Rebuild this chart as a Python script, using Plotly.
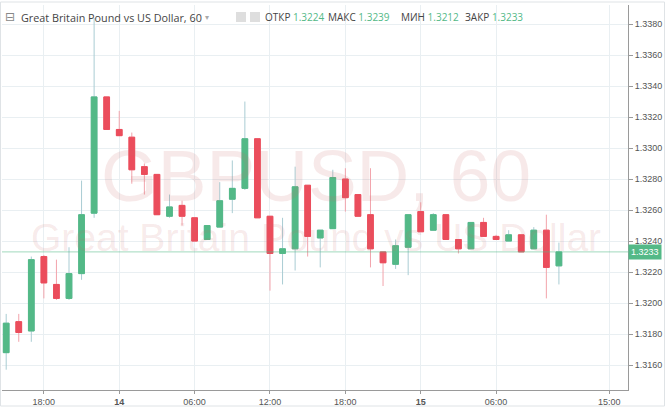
import plotly.graph_objects as go
import pandas as pd

# hourly GBPUSD candles, 13th 15:00 -> 15th 11:00
times = pd.date_range("2017-09-13 15:00", periods=45, freq="h")
opens = [1.3168, 1.3188, 1.3182, 1.3230, 1.3212, 1.3203, 1.3219, 1.3258, 1.3333,
         1.3312, 1.3307, 1.3288, 1.3283, 1.3256, 1.3263, 1.3255, 1.3241, 1.3249,
         1.3267, 1.3274, 1.3306, 1.3256, 1.3232, 1.3235, 1.3276, 1.3242, 1.3248,
         1.3280, 1.3270, 1.3257, 1.3233, 1.3225, 1.3236, 1.3259, 1.3247, 1.3257,
         1.3241, 1.3235, 1.3252, 1.3243, 1.3240, 1.3244, 1.3235, 1.3247, 1.3224]
highs = [1.3193, 1.3193, 1.3230, 1.3231, 1.3228, 1.3236, 1.3279, 1.3384, 1.3333,
         1.3324, 1.3310, 1.3290, 1.3283, 1.3270, 1.3266, 1.3255, 1.3250, 1.3278,
         1.3292, 1.3330, 1.3306, 1.3256, 1.3255, 1.3288, 1.3276, 1.3247, 1.3286,
         1.3287, 1.3270, 1.3287, 1.3233, 1.3241, 1.3257, 1.3265, 1.3258, 1.3257,
         1.3241, 1.3252, 1.3255, 1.3244, 1.3247, 1.3244, 1.3249, 1.3257, 1.3239]
lows = [1.3157, 1.3175, 1.3175, 1.3203, 1.3202, 1.3202, 1.3215, 1.3255, 1.3312,
        1.3308, 1.3277, 1.3270, 1.3257, 1.3255, 1.3250, 1.3240, 1.3241, 1.3249,
        1.3258, 1.3273, 1.3255, 1.3208, 1.3212, 1.3221, 1.3230, 1.3223, 1.3248,
        1.3259, 1.3256, 1.3223, 1.3211, 1.3222, 1.3218, 1.3246, 1.3247, 1.3241,
        1.3232, 1.3235, 1.3243, 1.3241, 1.3240, 1.3233, 1.3235, 1.3203, 1.3212]
closes = [1.3187, 1.3181, 1.3228, 1.3213, 1.3203, 1.3219, 1.3257, 1.3333, 1.3312,
          1.3308, 1.3286, 1.3283, 1.3257, 1.3262, 1.3256, 1.3240, 1.3250, 1.3266,
          1.3274, 1.3306, 1.3255, 1.3232, 1.3235, 1.3275, 1.3243, 1.3247, 1.3281,
          1.3268, 1.3256, 1.3235, 1.3226, 1.3237, 1.3257, 1.3246, 1.3257, 1.3241,
          1.3235, 1.3252, 1.3243, 1.3241, 1.3244, 1.3233, 1.3247, 1.3223, 1.3233]

header_labels = ["ОТКР", "МАКС", "МИН", "ЗАКР"]
header_values = ["1.3224", "1.3239", "1.3212", "1.3233"]

x_tickvals = ["2017-09-13 18:00", "2017-09-14 00:00", "2017-09-14 06:00", "2017-09-14 12:00",
              "2017-09-14 18:00", "2017-09-15 00:00", "2017-09-15 06:00", "2017-09-15 15:00"]
x_ticktext = ["18:00", "<b>14</b>", "06:00", "12:00", "18:00", "<b>15</b>", "06:00", "15:00"]

GREEN = "#53b987"
RED = "#eb4d5c"
W, H = 665, 408
L, R, T, B = 2, 37, 5, 18
PW, PH = W - L - R, H - T - B


def px(x):
    return (x - L) / PW


def py(y):
    return (H - B - y) / PH


fig = go.Figure()
# wicks (lighter) underneath
fig.add_trace(go.Candlestick(
    x=times, open=opens, high=highs, low=lows, close=closes,
    increasing=dict(line=dict(color="#a9ccd3", width=1), fillcolor=GREEN),
    decreasing=dict(line=dict(color="#f2a3ab", width=1), fillcolor=RED),
    hoverinfo="skip", showlegend=False))
# solid bodies on top
body_hi = [max(o, c) for o, c in zip(opens, closes)]
body_lo = [min(o, c) for o, c in zip(opens, closes)]
fig.add_trace(go.Candlestick(
    x=times, open=opens, high=body_hi, low=body_lo, close=closes,
    increasing=dict(line=dict(color=GREEN, width=1), fillcolor=GREEN),
    decreasing=dict(line=dict(color=RED, width=1), fillcolor=RED),
    showlegend=False))

fig.update_layout(
    width=W, height=H,
    margin=dict(l=L, r=R, t=T, b=B),
    paper_bgcolor="white", plot_bgcolor="white",
    boxgap=0.35,
    font=dict(family="Liberation Sans, Arial, sans-serif", size=9, color="#555"),
)
fig.update_xaxes(
    range=["2017-09-13 14:40", "2017-09-15 16:30"],
    rangeslider_visible=False,
    tickvals=x_tickvals, ticktext=x_ticktext,
    showgrid=True, gridcolor="#e9eff2", gridwidth=1,
    showline=True, linecolor="#9a9a9a", linewidth=1,
    ticks="outside", ticklen=3, tickcolor="#9a9a9a",
    tickfont=dict(size=9, color="#555"), zeroline=False,
)
fig.update_yaxes(
    side="right", range=[1.31439, 1.33923],
    tick0=1.316, dtick=0.002, tickformat=".4f",
    showgrid=True, gridcolor="#e9eff2", gridwidth=1,
    showline=True, linecolor="#9a9a9a", linewidth=1,
    ticks="outside", ticklen=4, tickcolor="#9a9a9a",
    tickfont=dict(size=9, color="#555"), zeroline=False,
)

# watermark
fig.add_annotation(text="GBPUSD, 60", x=px(316), y=py(175), xref="paper", yref="paper",
                   xanchor="center", yanchor="middle", showarrow=False,
                   font=dict(size=73, color="rgba(200,110,110,0.15)", family="Liberation Sans, Arial"))
fig.add_annotation(text="Great Britain Pound vs US Dollar", x=px(316), y=py(237),
                   xref="paper", yref="paper", xanchor="center", yanchor="middle", showarrow=False,
                   font=dict(size=39, color="rgba(200,110,110,0.15)", family="Liberation Sans, Arial"))

# last price line + label
last = closes[-1]
fig.add_shape(type="line", xref="paper", x0=0, x1=1, y0=last, y1=last,
              line=dict(color="rgba(83,185,135,0.55)", width=1))
fig.add_annotation(text=f"{last:.4f}", x=1, y=last, xref="paper", xanchor="left", yanchor="middle",
                   showarrow=False, bgcolor=GREEN, borderpad=2,
                   font=dict(size=9, color="white"))

# header
hy = py(17)
fig.add_annotation(text="⊟", x=px(3), y=hy, xref="paper", yref="paper", xanchor="left",
                   yanchor="middle", showarrow=False,
                   font=dict(size=12, color="#888", family="DejaVu Sans"))
fig.add_annotation(text="Great Britain Pound vs US Dollar, 60", x=px(19), y=hy,
                   xref="paper", yref="paper", xanchor="left", yanchor="middle", showarrow=False,
                   font=dict(size=10.8, color="#444", family="Open Sans"))
fig.add_annotation(text="▾", x=px(203), y=hy, xref="paper", yref="paper", xanchor="left",
                   yanchor="middle", showarrow=False,
                   font=dict(size=8, color="#aaa", family="DejaVu Sans"))
for x0 in (236, 250):
    fig.add_shape(type="rect", xref="paper", yref="paper", x0=px(x0), x1=px(x0 + 10),
                  y0=py(22), y1=py(12), line=dict(width=0), fillcolor="#dedede")
header_x = [263, 326, 399, 463]
for lab, val, hx in zip(header_labels, header_values, header_x):
    fig.add_annotation(text=f"{lab} <span style='color:{GREEN}'>{val}</span>",
                       x=px(hx), y=hy, xref="paper", yref="paper", xanchor="left",
                       yanchor="middle", showarrow=False,
                       font=dict(size=10, color="#444", family="Open Sans"))

# outer frame
fig.add_shape(type="rect", xref="paper", yref="paper", x0=px(0.5), x1=px(664.5),
              y0=py(406), y1=py(2), line=dict(color="#dfe3e6", width=1), layer="below")

fig.write_html("out.html", config={"displayModeBar": False},
               post_script="document.body.style.margin='0px';")
